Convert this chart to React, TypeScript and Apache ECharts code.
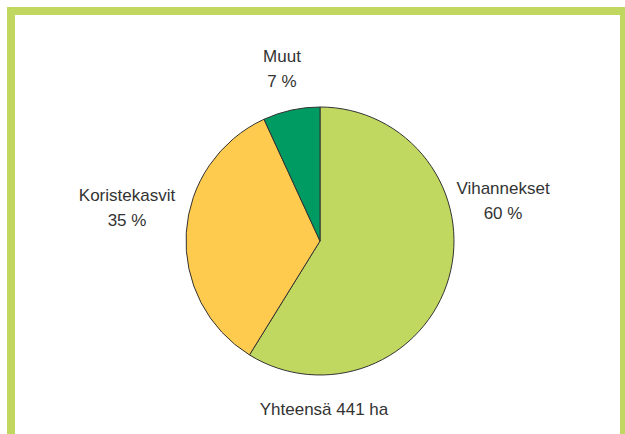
import React, { useEffect, useRef } from "react";
import * as echarts from "echarts";

const categories = ["Vihannekset", "Koristekasvit", "Muut"];
const values = [60, 35, 7];
const totalLabel = "Yhteensä 441 ha";

const colors = ["#c0d85f", "#ffcb4e", "#009b62"];
const labelPos: [number, number][] = [
  [503, 201],
  [127, 208],
  [282, 69],
];
const FONT = "'Liberation Sans', Arial, sans-serif";

export default function App() {
  const ref = useRef<HTMLDivElement>(null);
  useEffect(() => {
    document.body.style.margin = "0";
    const chart = echarts.init(ref.current!, null, { renderer: "svg" });
    chart.setOption({
      animation: false,
      backgroundColor: "#ffffff",
      graphic: [
        {
          type: "rect",
          shape: { x: 11, y: 11, width: 613, height: 430 },
          style: { fill: "none", stroke: "#c0d85f", lineWidth: 8 },
          silent: true,
        },
      ],
      title: {
        text: totalLabel,
        left: 319,
        textAlign: "center",
        top: 396,
        textStyle: { fontFamily: FONT, fontSize: 17, fontWeight: "normal", color: "#333" },
      },
      series: [
        {
          type: "pie",
          center: [320, 241],
          radius: 134,
          startAngle: 90,
          clockwise: true,
          data: categories.map((c, i) => ({ name: c, value: values[i], itemStyle: { color: colors[i] } })),
          itemStyle: { borderColor: "#333", borderWidth: 1 },
          label: {
            show: true,
            position: "outside",
            formatter: "{b}\n{c} %",
            fontFamily: FONT,
            fontSize: 17,
            lineHeight: 25,
            color: "#333",
            align: "center",
          },
          labelLine: { show: false },
          labelLayout: (p: any) => ({
            x: labelPos[p.dataIndex][0],
            y: labelPos[p.dataIndex][1],
            align: "center",
            verticalAlign: "middle",
          }),
          emphasis: { disabled: true },
        },
      ],
    });
    return () => chart.dispose();
  }, []);
  return <div ref={ref} style={{ width: 625, height: 434, position: "absolute", left: 0, top: 0 }} />;
}
